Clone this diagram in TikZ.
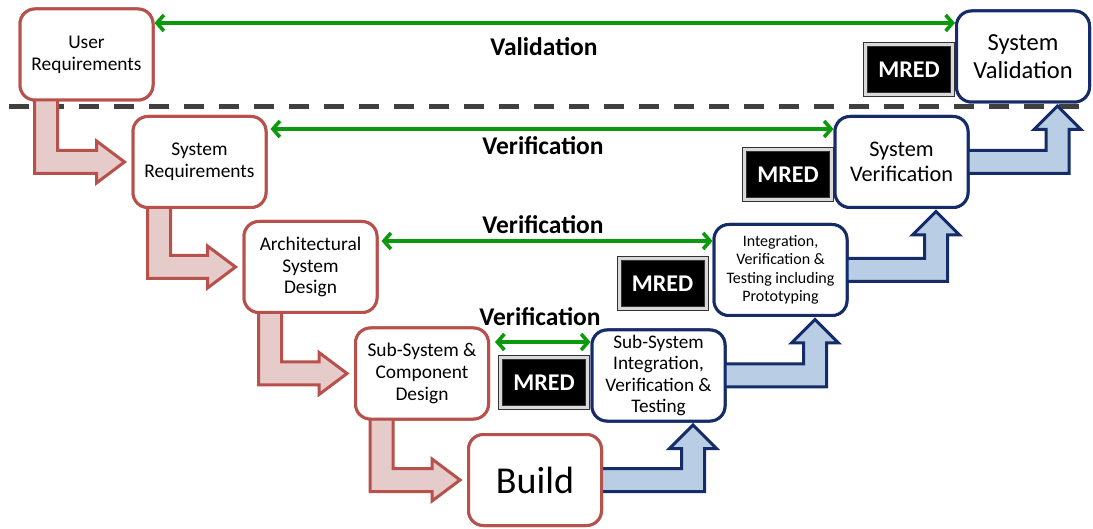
\documentclass[tikz,border=0pt]{standalone}
\usepackage{fontspec}
\setmainfont{Carlito}
\usetikzlibrary{arrows.meta,calc}

\definecolor{redline}{RGB}{184,80,76}
\definecolor{redfill}{RGB}{230,203,203}
\definecolor{blueline}{RGB}{22,44,105}
\definecolor{bluefill}{RGB}{185,205,228}
\definecolor{vgreen}{RGB}{12,154,12}
\definecolor{dashgray}{RGB}{64,64,64}

\tikzset{
  phase/.style={rectangle, rounded corners=15pt, line width=3pt, fill=white,
    minimum width=133pt, minimum height=91pt, align=center, inner sep=2pt},
  leftphase/.style={phase, draw=redline},
  rightphase/.style={phase, draw=blueline},
  mredbox/.style={rectangle, fill=black, draw=black!80, double=gray!30,
    double distance=3pt, line width=1pt, minimum width=87pt, minimum height=50pt,
    text=white, font=\fontsize{24}{27}\selectfont\bfseries},
  downstep/.style={draw=redline, fill=redfill, line width=3pt},
  upstep/.style={draw=blueline, fill=bluefill, line width=3pt},
  checkarrow/.style={draw=vgreen, line width=3.6pt,
    {Straight Barb[length=7pt,width=16pt]}-{Straight Barb[length=7pt,width=16pt]}},
  gatelabel/.style={font=\fontsize{25.5}{29}\selectfont\bfseries},
  txtA/.style={font=\fontsize{19.4}{21.8}\selectfont},
}

% L-shaped block arrow: down out of #1, then right into #2
\newcommand\stepdown[2]{%
  \draw[downstep] let \p1=(#1.south west), \p2=(#2.west) in
    (\x1+16pt,\y1+2pt) -- (\x1+16pt,\y2-11.5pt) -- (\x2-35pt,\y2-11.5pt)
    -- (\x2-35pt,\y2-21pt) -- (\x2-7pt,\y2) -- (\x2-35pt,\y2+21pt)
    -- (\x2-35pt,\y2+11.5pt) -- (\x1+39pt,\y2+11.5pt) -- (\x1+39pt,\y1+2pt) -- cycle;}

% L-shaped block arrow: right out of #1, then up into #2
\newcommand\stepup[2]{%
  \draw[upstep] let \p1=(#1.east), \p2=(#2.south east) in
    (\x1-2pt,\y1+11.5pt) -- (\x2-45pt,\y1+11.5pt) -- (\x2-45pt,\y2-26pt)
    -- (\x2-57pt,\y2-26pt) -- (\x2-33.5pt,\y2-2.5pt) -- (\x2-10pt,\y2-26pt)
    -- (\x2-22pt,\y2-26pt) -- (\x2-22pt,\y1-11.5pt) -- (\x1-2pt,\y1-11.5pt) -- cycle;}

\begin{document}
\begin{tikzpicture}[x=1pt,y=-1pt]
\useasboundingbox[fill=white] (0,0) rectangle (1093,529);

% boundary between validation and verification
\coordinate (dashL) at (9,107);
\coordinate (dashR) at (1093,107);
\draw[dashgray, line width=5pt, dash pattern=on 20pt off 15pt] (dashL) -- (dashR);

% review gates
\node[mredbox] (m1) at (909,69.5) {MRED};
\node[mredbox] (m2) at (788,175) {MRED};
\node[mredbox] (m3) at (662.5,283.5) {MRED};
\node[mredbox] (m4) at (544,382.5) {MRED};

% phase boxes (placed first as coordinates for the arrows)
\path
  (86.5,54.5)   node[leftphase] (ur)  {}
  (199.5,162)   node[leftphase] (sr)  {}
  (310.5,267)   node[leftphase] (asd) {}
  (422,373.5)   node[leftphase] (scd) {}
  (535,480)     node[leftphase] (bld) {}
  (658.5,375.5) node[rightphase] (ssi) {}
  (780.5,270)   node[rightphase] (ivt) {}
  (901.5,162)   node[rightphase] (sv)  {}
  (1023,56.5)   node[rightphase] (sval) {};

% decomposition and integration steps
\stepdown{ur}{sr}
\stepdown{sr}{asd}
\stepdown{asd}{scd}
\stepdown{scd}{bld}
\stepup{bld}{ssi}
\stepup{ssi}{ivt}
\stepup{ivt}{sv}
\stepup{sv}{sval}

% phase boxes with their texts
\node[leftphase, txtA] at (ur) {User\\Requirements};
\node[leftphase, txtA] at (sr) {System\\Requirements};
\node[leftphase, txtA] at (asd) {Architectural\\System\\Design};
\node[leftphase, txtA] at (scd) {Sub-System \&\\Component\\Design};
\node[leftphase, font=\fontsize{38}{44}\selectfont] at (bld) {Build};
\node[rightphase, font=\fontsize{19.2}{21.2}\selectfont] at (ssi) {Sub-System\\Integration,\\Verification \&\\Testing};
\node[rightphase, font=\fontsize{16}{18.4}\selectfont] at (ivt) {Integration,\\Verification \&\\Testing including\\Prototyping};
\node[rightphase, font=\fontsize{22.3}{25.3}\selectfont] at (sv) {System\\Verification};
\node[rightphase, font=\fontsize{24.5}{28}\selectfont] at (sval) {System\\Validation};

% validation and verification links
\draw[checkarrow] (ur.east |- 0,23) -- (sval.west |- 0,23);
\draw[checkarrow, shorten <=3pt] (sr.east |- 0,129) -- (sv.west |- 0,129);
\draw[checkarrow, shorten <=3pt] (asd.east |- 0,241) -- (ivt.west |- 0,241);
\draw[checkarrow, shorten <=5pt] (scd.east |- 0,342) -- (ssi.west |- 0,342);

\node[gatelabel] (lval) at (544,46.5) {Validation};
\node[gatelabel] (lv1) at (543,146) {Verification};
\node[gatelabel] (lv2) at (543,225) {Verification};
\node[gatelabel] (lv3) at (540,317) {Verification};
\end{tikzpicture}
\end{document}
